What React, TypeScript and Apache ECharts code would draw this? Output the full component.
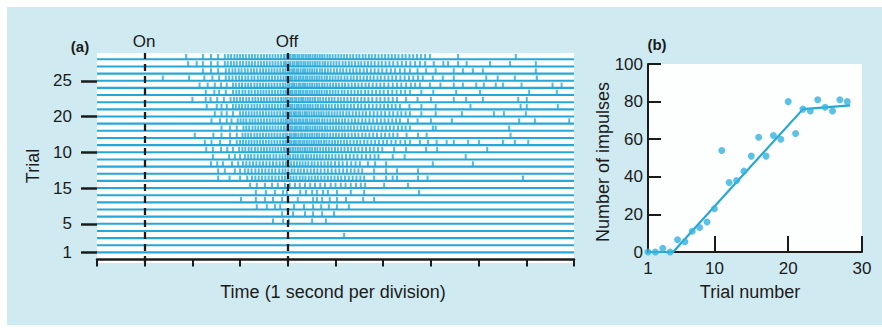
import React, { useEffect, useRef } from "react";
import * as echarts from "echarts";

// ---------- Panel (a): raster ----------
const trialNumbers = [1, 2, 3, 4, 5, 6, 7, 8, 9, 10, 11, 12, 13, 14, 15, 16, 17, 18, 19, 20, 21, 22, 23, 24, 25, 26, 27, 28];
// spike times in hundredths of a second, trial 1 first
const spikeTimes: string[] = [
  "",
  "",
  "518",
  "",
  "369 390 402 451 480",
  "388 411 436 453 472 497",
  "335 356 373 384 413 434 453 470 486 503 528",
  "302 333 352 369 388 400 421 453 461 472 488 503 522 558 581",
  "333 354 373 390 398 426 438 451 461 474 484 503 532 560 675",
  "321 335 352 367 379 394 404 415 425 436 447 457 468 478 490 500 511 521 532 543 553 562 602 652",
  "254 278 300 315 325 332 339 346 353 360 367 374 381 388 394 400 406 412 418 425 431 437 444 450 457 463 470 477 484 491 498 505 512 520 528 536 544 552 560 581 606 620 629 673 693 893",
  "254 268 289 300 310 317 324 332 339 346 353 360 367 374 382 389 395 401 408 414 421 427 434 441 448 455 462 469 477 484 492 500 508 516 524 532 540 548 556 581 606 629 673",
  "239 252 264 283 296 306 313 320 327 334 341 348 355 362 369 376 383 390 396 401 407 413 419 425 431 437 443 450 456 463 470 477 484 491 499 507 515 524 533 542 551 568 583 606 704 788",
  "243 277 289 300 310 317 323 330 337 344 350 357 363 370 376 383 389 395 400 405 411 416 421 427 432 438 443 449 455 461 467 473 480 486 493 500 507 514 522 530 538 546 555 564 573 582 590 620 645 773",
  "229 243 260 273 285 298 305 311 318 324 331 337 344 350 356 362 368 374 380 386 392 397 402 406 411 416 421 426 431 436 441 446 451 457 462 468 474 480 486 492 499 505 512 519 526 533 541 548 556 564 572 580 589 598 623 648 690 713 818",
  "226 240 258 279 293 300 306 312 318 324 330 336 342 348 354 360 366 372 378 384 390 395 399 404 408 413 417 422 426 431 435 440 445 450 455 460 465 470 476 481 487 493 499 505 511 518 524 531 538 545 552 560 567 575 583 591 600 608 617 626 636 646 656 677 694 712 733 748 778 801 851 876 904",
  "205 244 261 279 293 305 311 317 323 330 336 342 348 354 360 366 372 378 384 390 395 399 404 408 413 417 422 427 431 436 441 446 451 456 461 466 472 477 483 489 495 501 507 514 520 527 534 541 548 556 563 571 579 587 596 604 613 621 630 649 673 691 867",
  "261 279 293 307 313 319 326 332 338 344 350 356 362 368 374 380 386 392 397 401 406 410 415 419 424 428 433 438 442 447 452 457 462 467 472 478 483 489 495 501 507 513 519 526 532 539 546 553 560 567 575 582 590 598 606 614 622 631 639 647 656 704 710 864",
  "240 258 272 282 295 301 307 313 320 326 332 338 344 350 356 362 368 374 380 386 391 396 400 405 409 414 418 423 427 432 437 441 446 451 456 461 466 472 477 483 489 495 501 507 514 520 527 534 541 548 556 563 571 579 587 595 603 611 619 627 635 652 672 700 744 885 918 990",
  "247 261 272 285 300 306 312 318 324 330 336 342 348 354 360 366 372 378 384 390 395 399 404 408 413 417 422 426 431 436 440 445 450 455 460 465 470 475 481 486 492 498 504 510 516 523 529 536 543 550 557 564 572 580 588 596 604 613 621 630 638 647 656 680 710 765 832 853 899",
  "230 251 261 272 285 291 298 304 311 317 324 330 336 342 349 355 361 367 373 379 385 391 396 400 405 409 414 419 423 428 433 437 442 447 452 458 463 469 474 480 486 492 499 505 512 518 525 532 539 547 554 562 570 578 586 594 602 610 618 626 635 655 680 710 783 888 901 966",
  "200 228 238 252 266 280 287 293 300 306 313 319 326 332 338 344 350 356 362 368 374 380 386 391 396 400 405 409 414 418 423 428 432 437 442 447 452 457 463 468 474 480 486 492 498 505 511 518 525 532 539 546 554 561 569 577 586 594 603 611 620 629 648 672 700 748 774 809 883 901",
  "228 246 256 270 285 292 298 305 311 318 324 331 337 343 349 355 361 367 373 379 385 391 396 400 405 409 414 418 423 427 432 437 441 446 451 456 461 466 471 477 482 488 494 500 506 513 519 526 533 540 547 554 562 569 577 585 593 601 610 619 628 637 646 656 680 705 753 803 906 964",
  "215 232 247 260 272 285 291 298 304 311 317 323 330 336 342 348 354 360 366 372 378 384 390 395 400 404 409 413 418 423 427 432 436 441 446 451 456 461 466 472 477 483 489 495 501 507 514 520 527 534 541 548 555 563 570 578 586 594 602 611 620 629 638 648 658 667 677 698 720 748 767 795 811 836 851 890 955 974",
  "138 193 225 242 256 270 277 284 291 298 304 311 317 324 330 337 343 349 355 361 367 373 379 385 391 396 400 405 409 414 418 423 427 432 437 441 446 451 456 461 466 471 477 482 488 494 500 506 512 519 525 532 538 545 552 559 566 573 580 588 595 603 611 619 627 636 645 654 663 673 683 704 725 748 816 840 876 922",
  "222 239 254 270 277 284 290 297 303 310 316 323 329 335 342 348 354 360 366 372 378 384 390 395 400 404 409 413 418 422 427 432 436 441 446 451 456 461 467 472 478 484 490 497 503 510 516 523 530 537 544 551 559 566 574 582 590 598 607 616 625 635 645 656 672 690 710 748 767 788 809 920",
  "191 209 222 239 253 268 274 281 287 293 300 306 313 319 325 331 338 344 350 356 362 368 374 380 386 392 396 401 405 410 414 419 423 428 433 437 442 447 452 457 462 467 473 478 484 490 496 502 508 515 521 528 534 541 548 554 561 568 575 582 590 597 605 613 621 630 639 648 657 667 677 688 706 726 736 757 775 824 866 920",
  "187 222 239 254 268 275 281 288 294 300 306 312 319 325 331 337 344 350 356 362 368 374 380 386 392 397 402 406 411 415 420 424 429 433 438 443 447 452 457 462 467 472 477 483 488 494 500 506 512 518 524 531 537 544 550 557 563 570 576 583 590 597 604 611 618 625 632 640 647 655 663 671 679 688 698 757 878",
];
const timeMin = 0;
const timeMax = 10;
const onTime = 1;
const offTime = 4;
const trialTickValues = [1, 5, 10, 15, 20, 25];
const trialTickLabels = ["1", "5", "15", "10", "20", "25"];

// ---------- Panel (b): impulses per trial ----------
const impulseTrials = [1, 2, 3, 4, 5, 6, 7, 8, 9, 10, 11, 12, 13, 14, 15, 16, 17, 18, 19, 20, 21, 22, 23, 24, 25, 26, 27, 28];
const impulseCounts = [0, 0, 2, 0, 6.5, 5.5, 11, 13, 16, 23, 54, 37, 38, 43, 51, 61, 51, 62, 60, 80, 63, 76, 75, 81, 77, 75, 81, 80];
const fitTrials = [1, 4.4, 22, 28.4];
const fitCounts = [0, 0, 76, 78];
const trialNumberLabels = [1, 10, 20, 30];
const trialNumberTicks = [10, 20, 30];

const BLUE = "#27a7d8";
const DOT = "#35b2de";
const INK = "#1b1b1b";
const FONT = "'Liberation Sans', Arial, Helvetica, sans-serif";

export default function App() {
  const ref = useRef<HTMLDivElement>(null);

  useEffect(() => {
    document.body.style.margin = "0";
    if (!ref.current) return;
    const chart = echarts.init(ref.current, null, { renderer: "svg" });

    const spikeData: number[][] = [];
    trialNumbers.forEach((k, i) => {
      spikeTimes[i]
        .split(" ")
        .filter((s) => s.length > 0)
        .forEach((s) => spikeData.push([Number(s) / 100, k]));
    });

    const textStyle = (size: number, weight: any = "normal") => ({
      fontFamily: FONT,
      fontSize: size,
      fontWeight: weight,
      fill: INK,
      textAlign: "center",
      textVerticalAlign: "middle",
    });

    chart.setOption({
      animation: false,
      backgroundColor: "transparent",
      textStyle: { fontFamily: FONT },
      grid: [
        { left: 97, top: 53, width: 477, height: 210, show: true, backgroundColor: "#fdfefe", borderWidth: 0 },
        { left: 648, top: 64, width: 214, height: 188, show: true, backgroundColor: "#fdfefe", borderWidth: 0 },
      ],
      xAxis: [
        {
          gridIndex: 0,
          type: "value",
          min: timeMin,
          max: timeMax,
          interval: 1,
          offset: 3,
          axisLine: { show: true, lineStyle: { color: INK, width: 2.5 } },
          axisTick: { show: true, length: 7, lineStyle: { color: INK, width: 2 } },
          axisLabel: { show: false },
          splitLine: { show: false },
        },
        {
          gridIndex: 1,
          type: "value",
          min: 1,
          max: 30,
          axisLine: { show: true, lineStyle: { color: INK, width: 2 } },
          axisTick: { show: true, inside: true, length: 16, customValues: trialNumberTicks, lineStyle: { color: INK, width: 2 } },
          axisLabel: { show: true, customValues: trialNumberLabels, fontSize: 17, color: INK, margin: 8, fontFamily: FONT },
          splitLine: { show: false },
        },
      ],
      yAxis: [
        {
          gridIndex: 0,
          type: "value",
          min: -0.48,
          max: 28.88,
          offset: 4,
          axisLine: { show: false },
          axisTick: { show: true, length: 16, customValues: trialTickValues, lineStyle: { color: INK, width: 2.5 } },
          axisLabel: {
            show: true,
            customValues: trialTickValues,
            formatter: (v: number) => trialTickLabels[trialTickValues.indexOf(v)] ?? "",
            fontSize: 17,
            color: INK,
            margin: 21,
            fontFamily: FONT,
          },
          splitLine: { show: false },
        },
        {
          gridIndex: 1,
          type: "value",
          min: 0,
          max: 100,
          interval: 20,
          axisLine: { show: true, lineStyle: { color: INK, width: 2 } },
          axisTick: { show: true, inside: true, length: 13, lineStyle: { color: INK, width: 2 } },
          axisLabel: { show: true, fontSize: 17, color: INK, margin: 5, fontFamily: FONT },
          splitLine: { show: false },
        },
      ],
      series: [
        {
          type: "custom",
          xAxisIndex: 0,
          yAxisIndex: 0,
          silent: true,
          z: 1,
          data: trialNumbers.map((k) => [timeMin, k]),
          encode: { x: 0, y: 1 },
          renderItem: (params: any, api: any) => {
            const k = api.value(1);
            const a = api.coord([timeMin, k]);
            const b = api.coord([timeMax, k]);
            return {
              type: "line",
              shape: { x1: a[0], y1: a[1], x2: b[0], y2: b[1] },
              style: { stroke: BLUE, lineWidth: 2.1 },
            };
          },
        },
        {
          type: "scatter",
          xAxisIndex: 0,
          yAxisIndex: 0,
          silent: true,
          z: 2,
          symbol: "rect",
          symbolSize: [2, 5.5],
          symbolOffset: [0, -2.6],
          itemStyle: { color: BLUE },
          data: spikeData,
          markLine: {
            silent: true,
            symbol: ["none", "none"],
            label: { show: false },
            lineStyle: { color: INK, width: 2.3, type: [7, 5] },
            data: [{ xAxis: onTime }, { xAxis: offTime }],
          },
        },
        {
          type: "line",
          xAxisIndex: 1,
          yAxisIndex: 1,
          silent: true,
          showSymbol: false,
          symbol: "none",
          lineStyle: { color: BLUE, width: 2.2 },
          data: fitTrials.map((x, i) => [x, fitCounts[i]]),
          z: 3,
        },
        {
          type: "scatter",
          xAxisIndex: 1,
          yAxisIndex: 1,
          silent: true,
          symbolSize: 7,
          itemStyle: { color: DOT },
          data: impulseTrials.map((x, i) => [x, impulseCounts[i]]),
          z: 4,
        },
      ],
      graphic: [
        { type: "text", x: 80, y: 46, style: { text: "(a)", ...textStyle(15, "bold") } },
        { type: "text", x: 144, y: 41, style: { text: "On", ...textStyle(17) } },
        { type: "text", x: 287, y: 41, style: { text: "Off", ...textStyle(17) } },
        { type: "text", x: 33, y: 166, rotation: Math.PI / 2, style: { text: "Trial", ...textStyle(18) } },
        { type: "text", x: 333, y: 292, style: { text: "Time (1 second per division)", ...textStyle(18) } },
        { type: "text", x: 657, y: 44, style: { text: "(b)", ...textStyle(15, "bold") } },
        { type: "text", x: 603, y: 162, rotation: Math.PI / 2, style: { text: "Number of impulses", ...textStyle(18) } },
        { type: "text", x: 750, y: 292, style: { text: "Trial number", ...textStyle(18) } },
      ],
    });

    return () => chart.dispose();
  }, []);

  return (
    <div style={{ position: "relative", width: 882, height: 328, background: "#ffffff", overflow: "hidden" }}>
      <div style={{ position: "absolute", left: 7, top: 7, width: 875, height: 318, background: "#d0eaf1" }} />
      <div ref={ref} style={{ position: "absolute", left: 0, top: 0, width: 882, height: 328 }} />
    </div>
  );
}
